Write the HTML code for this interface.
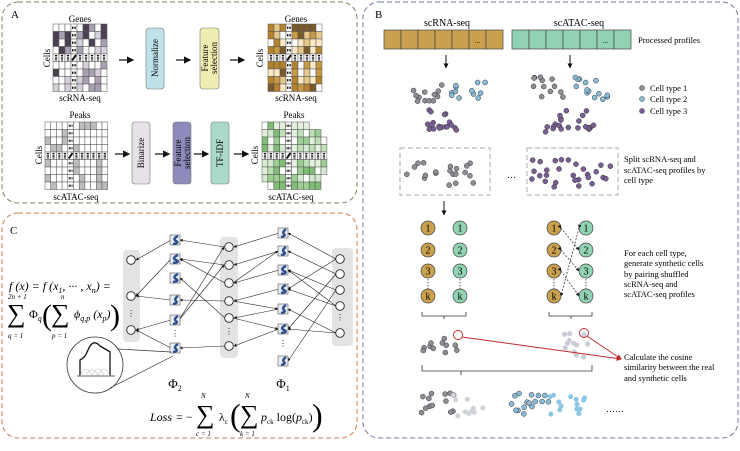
<!DOCTYPE html>
<html><head><meta charset="utf-8">
<style>
html,body{margin:0;padding:0;background:#fff;}
svg{display:block;font-family:"Liberation Serif","DejaVu Serif",serif;}
</style></head>
<body>
<svg id="s" width="740" height="451" viewBox="0 0 740 451" xmlns="http://www.w3.org/2000/svg">
<defs>
<marker id="ah" markerWidth="6" markerHeight="6" refX="5" refY="3" orient="auto"><path d="M0,0 L6,3 L0,6 z" fill="#111"/></marker>
<marker id="ahs" markerWidth="5" markerHeight="5" refX="4.5" refY="2.5" orient="auto"><path d="M0,0 L5,2.5 L0,5 z" fill="#111"/></marker>
<marker id="ahr" markerWidth="6" markerHeight="6" refX="5" refY="3" orient="auto"><path d="M0,0 L6,3 L0,6 z" fill="#c0282a"/></marker>
</defs>
<rect x="2" y="2" width="355" height="201" rx="16" fill="none" stroke="#6d8a5c" stroke-dasharray="5,3" stroke-width="1"/>
<rect x="2" y="213" width="355" height="225" rx="16" fill="none" stroke="#cf7b4d" stroke-dasharray="5,3" stroke-width="1"/>
<rect x="363" y="2" width="375" height="436" rx="16" fill="none" stroke="#6c7ba3" stroke-dasharray="5,3" stroke-width="1"/>

<text x="11" y="18" font-size="11">A</text>
<text x="375" y="18" font-size="11">B</text>
<text x="10" y="234" font-size="11">C</text>

<g id="A"></g>
<g font-size="9" text-anchor="middle">
<text x="80" y="22">Genes</text>
<text x="80" y="101">scRNA-seq</text>
<text x="296" y="22">Genes</text>
<text x="296" y="101">scRNA-seq</text>
<text x="80" y="118">Peaks</text>
<text x="76" y="200">scATAC-seq</text>
<text x="294" y="118">Peaks</text>
<text x="291" y="200">scATAC-seq</text>
<text transform="translate(50,58) rotate(-90)">Cells</text>
<text transform="translate(263,58) rotate(-90)">Cells</text>
<text transform="translate(42,155) rotate(-90)">Cells</text>
<text transform="translate(258,155) rotate(-90)">Cells</text>
</g>
<g font-size="9" text-anchor="middle">
<rect x="146" y="28" width="18" height="61" rx="3" fill="#bfe2ea" stroke="#777" stroke-width="0.6"/>
<text transform="translate(158,58) rotate(-90)">Normalize</text>
<rect x="200" y="28" width="19" height="61" rx="3" fill="#eeeeb2" stroke="#777" stroke-width="0.6"/>
<text transform="translate(208,58) rotate(-90)">Feature</text>
<text transform="translate(217,58) rotate(-90)">selection</text>
<rect x="132" y="122" width="18" height="62" rx="3" fill="#e6e2e8" stroke="#777" stroke-width="0.6"/>
<text transform="translate(144,153) rotate(-90)">Binarize</text>
<rect x="173" y="122" width="18" height="62" rx="3" fill="#8d8bbb" stroke="#777" stroke-width="0.6"/>
<text transform="translate(181,153) rotate(-90)">Feature</text>
<text transform="translate(190,153) rotate(-90)">selection</text>
<rect x="211" y="122" width="18" height="62" rx="3" fill="#abdacb" stroke="#777" stroke-width="0.6"/>
<text transform="translate(223,153) rotate(-90)">TF-IDF</text>
</g>
<g stroke="#111" stroke-width="1.2" marker-end="url(#ah)">
<line x1="119" y1="60" x2="133" y2="60"/>
<line x1="176" y1="60" x2="190" y2="60"/>
<line x1="230" y1="60" x2="244" y2="60"/>
<line x1="115" y1="154" x2="129" y2="154"/>
<line x1="155" y1="154" x2="169" y2="154"/>
<line x1="194" y1="154" x2="208" y2="154"/>
<line x1="234" y1="154" x2="248" y2="154"/>
</g>

<!-- Panel C -->
<rect x="123" y="250" width="17" height="92" rx="4" fill="#e3e3e3"/>
<rect x="220" y="237" width="18" height="121" rx="4" fill="#e3e3e3"/>
<rect x="332" y="248" width="21" height="98" rx="4" fill="#e3e3e3"/>
<g id="C"></g>
<text x="9" y="290" font-size="12" font-style="italic">f (x) = f (x<tspan font-size="8" dy="3">1</tspan><tspan dy="-3">, ··· , x</tspan><tspan font-size="8" dy="3">n</tspan><tspan dy="-3">) =</tspan></text>
<g font-size="7" font-style="italic"><text x="8" y="299">2n + 1</text><text x="8" y="338">q = 1</text><text x="61" y="299">n</text><text x="52" y="338">p = 1</text></g>
<text x="7" y="322" font-size="26">∑</text>
<text x="29" y="318" font-size="12">Φ<tspan font-size="8" font-style="italic" dy="3">q</tspan></text>
<text x="42" y="325" font-size="30" font-weight="normal">(</text>
<text x="51" y="322" font-size="26">∑</text>
<text x="74" y="318" font-size="12" font-style="italic">ϕ<tspan font-size="8" dy="3">q,p</tspan><tspan dy="-3"> (x</tspan><tspan font-size="8" dy="3">p</tspan><tspan dy="-3">)</tspan></text>
<text x="110" y="325" font-size="30">)</text>
<text x="175" y="388" font-size="13" text-anchor="middle">Φ<tspan font-size="8" dy="3">2</tspan></text>
<text x="283" y="388" font-size="13" text-anchor="middle">Φ<tspan font-size="8" dy="3">1</tspan></text>
<text x="150" y="421" font-size="12" font-style="italic">Loss</text>
<text x="176" y="421" font-size="12">= −</text>
<text x="196" y="423" font-size="26">∑</text>
<text x="201" y="398" font-size="7" font-style="italic">N</text>
<text x="196" y="436" font-size="7" font-style="italic">c = 1</text>
<text x="219" y="421" font-size="12">λ<tspan font-size="7" dy="3">c</tspan></text>
<text x="230" y="426" font-size="32">(</text>
<text x="240" y="423" font-size="26">∑</text>
<text x="245" y="398" font-size="7" font-style="italic">N</text>
<text x="240" y="436" font-size="7" font-style="italic">k = 1</text>
<text x="261" y="421" font-size="12"><tspan font-style="italic">p</tspan><tspan font-size="7" dy="3">ck</tspan><tspan dy="-3"> log(</tspan><tspan font-style="italic">p</tspan><tspan font-size="7" dy="3">ck</tspan><tspan dy="-3">)</tspan></text>
<text x="312" y="426" font-size="32">)</text>
<circle cx="95" cy="365" r="28" fill="#fff" stroke="#333" stroke-width="0.8"/>
<line x1="118" y1="349" x2="171" y2="352" stroke="#333" stroke-width="0.7"/>
<line x1="110" y1="388" x2="173" y2="356" stroke="#333" stroke-width="0.7"/>
<line x1="77" y1="376" x2="115" y2="376" stroke="#333" stroke-width="0.8"/>
<path d="M80,376 L80,360 Q85,358 88,350 Q93,338 100,346 Q107,350 110,352 L110,376" fill="none" stroke="#111" stroke-width="1.3"/>
<path d="M80,376 Q86,362 92,376 M86,376 Q92,362 98,376 M92,376 Q98,362 104,376 M98,376 Q104,362 110,376" fill="none" stroke="#bbb" stroke-width="0.6"/>

<!-- Panel B -->
<g font-size="10" text-anchor="middle"><text x="447" y="26">scRNA-seq</text><text x="579" y="26">scATAC-seq</text></g>
<g id="B"></g>
<g font-size="8.5">
<text x="638" y="43">Processed profiles</text>
<text x="650" y="91">Cell type 1</text>
<text x="650" y="102">Cell type 2</text>
<text x="650" y="114">Cell type 3</text>
<text x="624" y="162">Split scRNA-seq and</text>
<text x="624" y="173">scATAC-seq profiles by</text>
<text x="624" y="183">cell type</text>
<text x="624" y="256">For each cell type,</text>
<text x="624" y="266">generate synthetic cells</text>
<text x="624" y="277">by pairing shuffled</text>
<text x="624" y="287">scRNA-seq and</text>
<text x="624" y="297">scATAC-seq profiles</text>
<text x="624" y="360">Calculate the cosine</text>
<text x="624" y="370">similarity between the real</text>
<text x="624" y="381">and synthetic cells</text>
<text x="507" y="178" font-size="9">…</text>
<text x="606" y="412" font-size="9">……</text>
</g>
<rect x="400" y="148" width="90" height="47" fill="none" stroke="#aaa" stroke-dasharray="5,3"/>
<rect x="527" y="148" width="91" height="47" fill="none" stroke="#aaa" stroke-dasharray="5,3"/>
<g stroke="#111" stroke-width="1" marker-end="url(#ahs)">
<line x1="446" y1="55" x2="446" y2="68"/>
<line x1="570" y1="55" x2="570" y2="68"/>
<line x1="444" y1="201" x2="444" y2="215"/>
</g>
<g fill="none" stroke="#333" stroke-width="0.8">
<path d="M422,312 v4 h44 v-4 M444,316 v3"/>
<path d="M549,312 v4 h43 v-4 M571,316 v3"/>
<path d="M422,365 v6 h170 v-6 M461,371 v4"/>
</g>
<g stroke="#c0282a" stroke-width="0.9" fill="none">
<circle cx="458" cy="335" r="4.5"/>
<circle cx="584" cy="333" r="4.5"/>
<line x1="462" y1="337" x2="621" y2="359" marker-end="url(#ahr)"/>
<line x1="587" y1="336" x2="621" y2="359" marker-end="url(#ahr)"/>
</g>
</svg>
<script>
var NS="http://www.w3.org/2000/svg";
function el(p,t,a){var e=document.createElementNS(NS,t);for(var k in a)e.setAttribute(k,a[k]);p.appendChild(e);return e;}
var seed=7;function r(){seed=(seed*16807)%2147483647;return seed/2147483647;}
var A=document.getElementById("A"),B=document.getElementById("B"),C=document.getElementById("C");
function matrix(x,y,cols,rows,cw,ch,pal,mc,mr,holes){
 for(var i=0;i<rows;i++)for(var j=0;j<cols;j++){
  var cx=x+j*cw,cy=y+i*ch;
  if(holes&&holes(i,j))continue;
  var f="#fff";
  if(j!=mc&&i!=mr){f=pal[Math.floor(r()*pal.length)];}
  el(A,"rect",{x:cx,y:cy,width:cw,height:ch,fill:f,stroke:"#555","stroke-width":0.5});
  if(j==mc&&i!=mr)el(A,"line",{x1:cx+1,y1:cy+ch/2,x2:cx+cw-1,y2:cy+ch/2,stroke:"#111","stroke-width":2.2,"stroke-dasharray":"1,0.6"});
  if(i==mr&&j!=mc)el(A,"line",{x1:cx+cw/2,y1:cy+1,x2:cx+cw/2,y2:cy+ch-1,stroke:"#111","stroke-width":2.2,"stroke-dasharray":"1,0.6"});
  if(i==mr&&j==mc)el(A,"line",{x1:cx+1,y1:cy+ch-1,x2:cx+cw-1,y2:cy+1,stroke:"#111","stroke-width":2});
 }
}
matrix(53,24,9,9,6,7.5,["#fff","#fff","#d7d0dc","#a9a0b3","#4b4052","#fff"],3,4);
matrix(268,24,9,9,6,7.5,["#fde9c4","#c79a45","#e7c78a","#7a5a2a","#fff","#b5832e"],3,4);
matrix(45,122,11,9,5.7,7.5,["#fff","#fff","#fff","#bdbdbd","#fff"],4,4);
matrix(262,122,11,9,5.9,7.5,["#e3f0dd","#bfe0b6","#9ccf92","#d4ead0","#fff","#7ebd73"],4,4,function(i,j){return (i==0&&j>7)||(i==8&&j==0)||(j==10&&(i<2||i>6))||(i==2&&j==1);});
var L1=[[131,260],[131,296],[131,330]],F2=[240,259,278,300,320,348],M=[247,265,283,301,318,346],F1=[233,251,270,289,309,329,361],R=[259,274,290,306,333];
var links=[[[229,247],[175,240]],[[175,240],[131,260]],[[229,265],[175,259]],[[229,283],[175,259]],[[175,259],[131,296]],[[229,301],[175,300]],[[175,300],[131,296]],[[229,318],[175,278]],[[229,346],[175,348]],[[175,320],[131,330]],[[175,348],[131,330]],[[175,320],[229,247]],[[175,320],[229,265]],[[283,233],[229,247]],[[283,251],[229,265]],[[283,270],[229,283]],[[283,289],[229,301]],[[283,309],[229,318]],[[283,329],[229,346]],[[340,259],[283,233]],[[340,274],[283,251]],[[340,290],[283,270]],[[340,306],[283,289]],[[340,333],[283,309]],[[340,259],[283,289]],[[340,274],[283,329]],[[340,290],[283,361]],[[340,333],[283,329]],[[340,306],[283,270]],[[229,301],[283,309]],[[229,283],[283,251]],[[229,318],[283,329]]];
links.forEach(function(l){el(C,"line",{x1:l[0][0]+(l[0][0]<l[1][0]?4:-4),y1:l[0][1],x2:l[1][0]+(l[1][0]<l[0][0]?5:-5),y2:l[1][1],stroke:"#222","stroke-width":0.6,"marker-end":"url(#ahs)"});});
function circ(x,y){el(C,"circle",{cx:x,cy:y,r:4.3,fill:"#fff",stroke:"#222","stroke-width":0.9});}
L1.forEach(function(p){circ(p[0],p[1]);});M.forEach(function(y){circ(229,y);});R.forEach(function(y){circ(340,y);});
function fsq(x,y){el(C,"rect",{x:x-5,y:y-5,width:10,height:10,fill:"#e8edf5",stroke:"#555","stroke-width":0.6});
 el(C,"path",{d:"M"+(x+3)+","+(y-4)+" Q"+(x-4+r()*3)+","+(y-1)+" "+(x+1)+","+(y+1)+" T"+(x-2)+","+(y+4),fill:"none",stroke:"#2c4f8a","stroke-width":2.4});}
F2.forEach(function(y){fsq(175,y);});F1.forEach(function(y){fsq(283,y);});
[[131,316],[175,336],[229,334],[283,346],[340,320]].forEach(function(p){el(C,"text",{x:p[0],y:p[1],"font-size":8,"text-anchor":"middle"}).textContent="⋮";});
function bar(x,fill){for(var i=0;i<7;i++){el(B,"rect",{x:x+i*17,y:30,width:17,height:19,fill:fill,stroke:"#444","stroke-width":0.7});}
 el(B,"text",{x:x+5.5*17,y:43,"font-size":7,"text-anchor":"middle"}).textContent="...";}
bar(384,"#c9a04d");bar(512,"#91d2b2");
var G="#8e8e96",Bl="#87bcd8",P="#7a5f96";
function dots(cx,cy,w,h,n,col,o){for(var i=0;i<n;i++){var x=cx+(r()-0.5)*w,y=cy+(r()-0.5)*h;el(B,"circle",{cx:x,cy:y,r:2.5,fill:col,stroke:"#333","stroke-width":0.5,opacity:o||1});}}
function dotsN(cx,cy,w,h,n,col,o){for(var i=0;i<n;i++){var x=cx+(r()-0.5)*w,y=cy+(r()-0.5)*h;el(B,"circle",{cx:x,cy:y,r:2.5,fill:col,opacity:o||1});}}
dots(427,94,35,18,12,G);dots(470,89,38,20,12,Bl);dots(442,120,32,22,18,P);
dots(550,87,35,22,12,G);dots(591,90,35,25,14,Bl);dots(570,121,50,22,22,P);
el(B,"circle",{cx:642,cy:88,r:2.5,fill:G,stroke:"#333","stroke-width":0.5});
el(B,"circle",{cx:642,cy:99,r:2.5,fill:Bl,stroke:"#333","stroke-width":0.5});
el(B,"circle",{cx:642,cy:111,r:2.5,fill:P,stroke:"#333","stroke-width":0.5});
dots(445,172,80,30,20,G);dots(572,172,85,30,28,P);
function num(x,y,f,t){el(B,"circle",{cx:x,cy:y,r:7,fill:f,stroke:"#444","stroke-width":0.7});el(B,"text",{x:x,y:y+3.5,"font-size":10,"text-anchor":"middle"}).textContent=t;}
[[228,"1"],[250,"2"],[271,"3"],[296,"k"]].forEach(function(p){num(428,p[0],"#c9a04d",p[1]);num(460,p[0],"#91d2b2",p[1]);num(554,p[0],"#c9a04d",p[1]);num(586,p[0],"#91d2b2",p[1]);});
[428,460,554,586].forEach(function(x){el(B,"line",{x1:x,y1:279,x2:x,y2:289,stroke:"#333","stroke-width":0.8,"stroke-dasharray":"1.5,1.5"});});
[[561,228,579,250],[561,250,579,271],[561,271,579,296],[579,228,561,296]].forEach(function(l){el(B,"line",{x1:l[0],y1:l[1],x2:l[2],y2:l[3],stroke:"#222","stroke-width":0.7,"stroke-dasharray":"2,1.5","marker-end":"url(#ahs)","marker-start":"url(#ahs)"});});
dots(440,344,35,18,11,G);dotsN(572,345,35,25,12,"#c9ccd6");
dots(440,403,40,20,13,G);dotsN(468,405,30,25,10,"#cfd1da");
dots(530,403,38,22,16,Bl);dotsN(570,405,40,22,14,"#8cc6e6");
</script>
</body></html>
